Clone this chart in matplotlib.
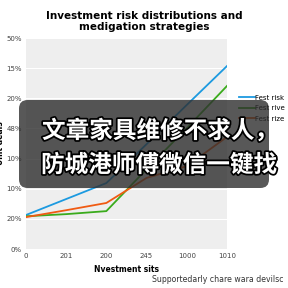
import matplotlib.pyplot as plt
import matplotlib.patheffects as pe
from matplotlib.patches import FancyBboxPatch

# data
x_labels = ['0', '201', '200', '245', '1000', '1010']
y_tick_labels = ['0%', '20%', '10%', '10%', '48%', '20%', '15%', '50%']
y_ticks = [0, 10, 20, 30, 40, 50, 60, 70]
risk = [11.3, 16.6, 21.9, 34.8, 47.8, 60.7]
rive = [10.9, 11.6, 12.6, 26.5, 40.1, 54.1]
rize = [10.6, 12.9, 15.3, 23.6, 27.5, 37.2]

fig = plt.figure(figsize=(2.88, 2.88), dpi=100)
ax = fig.add_axes([0.090, 0.135, 0.698, 0.733])
ax.set_facecolor('#eeeeee')
xs = range(len(x_labels))
ax.plot(xs, risk, color='#1c9ae0', lw=1.3, label='Fest risk')
ax.plot(xs, rive, color='#3aab1c', lw=1.3, label='Fest rive')
ax.plot(xs, rize, color='#f05a12', lw=1.3, label='Fest rize')

ax.set_xlim(0, 5)
ax.set_ylim(0, 70)
ax.set_xticks(list(xs))
ax.set_xticklabels(x_labels, fontsize=5, color='#444444')
ax.set_yticks(y_ticks)
ax.set_yticklabels(y_tick_labels, fontsize=5, color='#444444')
ax.tick_params(length=0, pad=3)
ax.grid(axis='y', color='white', lw=0.8)
ax.set_axisbelow(True)
for s in ax.spines.values():
    s.set_visible(False)

ax.set_xlabel('Nvestment sits', fontsize=5.5, fontweight='bold', labelpad=4)
ax.set_ylabel('Unit deals', fontsize=5.5, fontweight='bold', labelpad=0.5)
fig.text(0.5, 0.925, 'Investment risk distributions and\nmedigation strategies',
         ha='center', va='center', fontsize=7.5, fontweight='bold', linespacing=1.05)
fig.text(152 / 288, 0.022, 'Supportedarly chare wara devilsc', fontsize=5.6, color='#333333')

ax.legend(loc='upper left', bbox_to_anchor=(1.045, 0.745), frameon=False, fontsize=5,
          handlelength=2.3, handletextpad=0.0, labelspacing=0.65, borderaxespad=0)

# overlay banner
banner = FancyBboxPatch((19 / 288, 100 / 288), 250 / 288, 88 / 288,
                        boxstyle='round,pad=0,rounding_size=0.03',
                        transform=fig.transFigure, facecolor='#2e2e2e',
                        alpha=0.8, edgecolor='none', zorder=10)
fig.patches.append(banner)
fx = [pe.withStroke(linewidth=2.5, foreground='black')]
fig.text(42 / 288, 1 - 131 / 288, '文章家具维修不求人，', fontsize=17, color='white',
         fontweight='bold', family=['Noto Sans CJK SC', 'DejaVu Sans'],
         va='center', ha='left', zorder=11, path_effects=fx)
fig.text(41 / 288, 1 - 165 / 288, '防城港师傅微信一键找', fontsize=17, color='white',
         fontweight='bold', family=['Noto Sans CJK SC', 'DejaVu Sans'],
         va='center', ha='left', zorder=11, path_effects=fx)

fig.savefig('out.png', dpi=100)
